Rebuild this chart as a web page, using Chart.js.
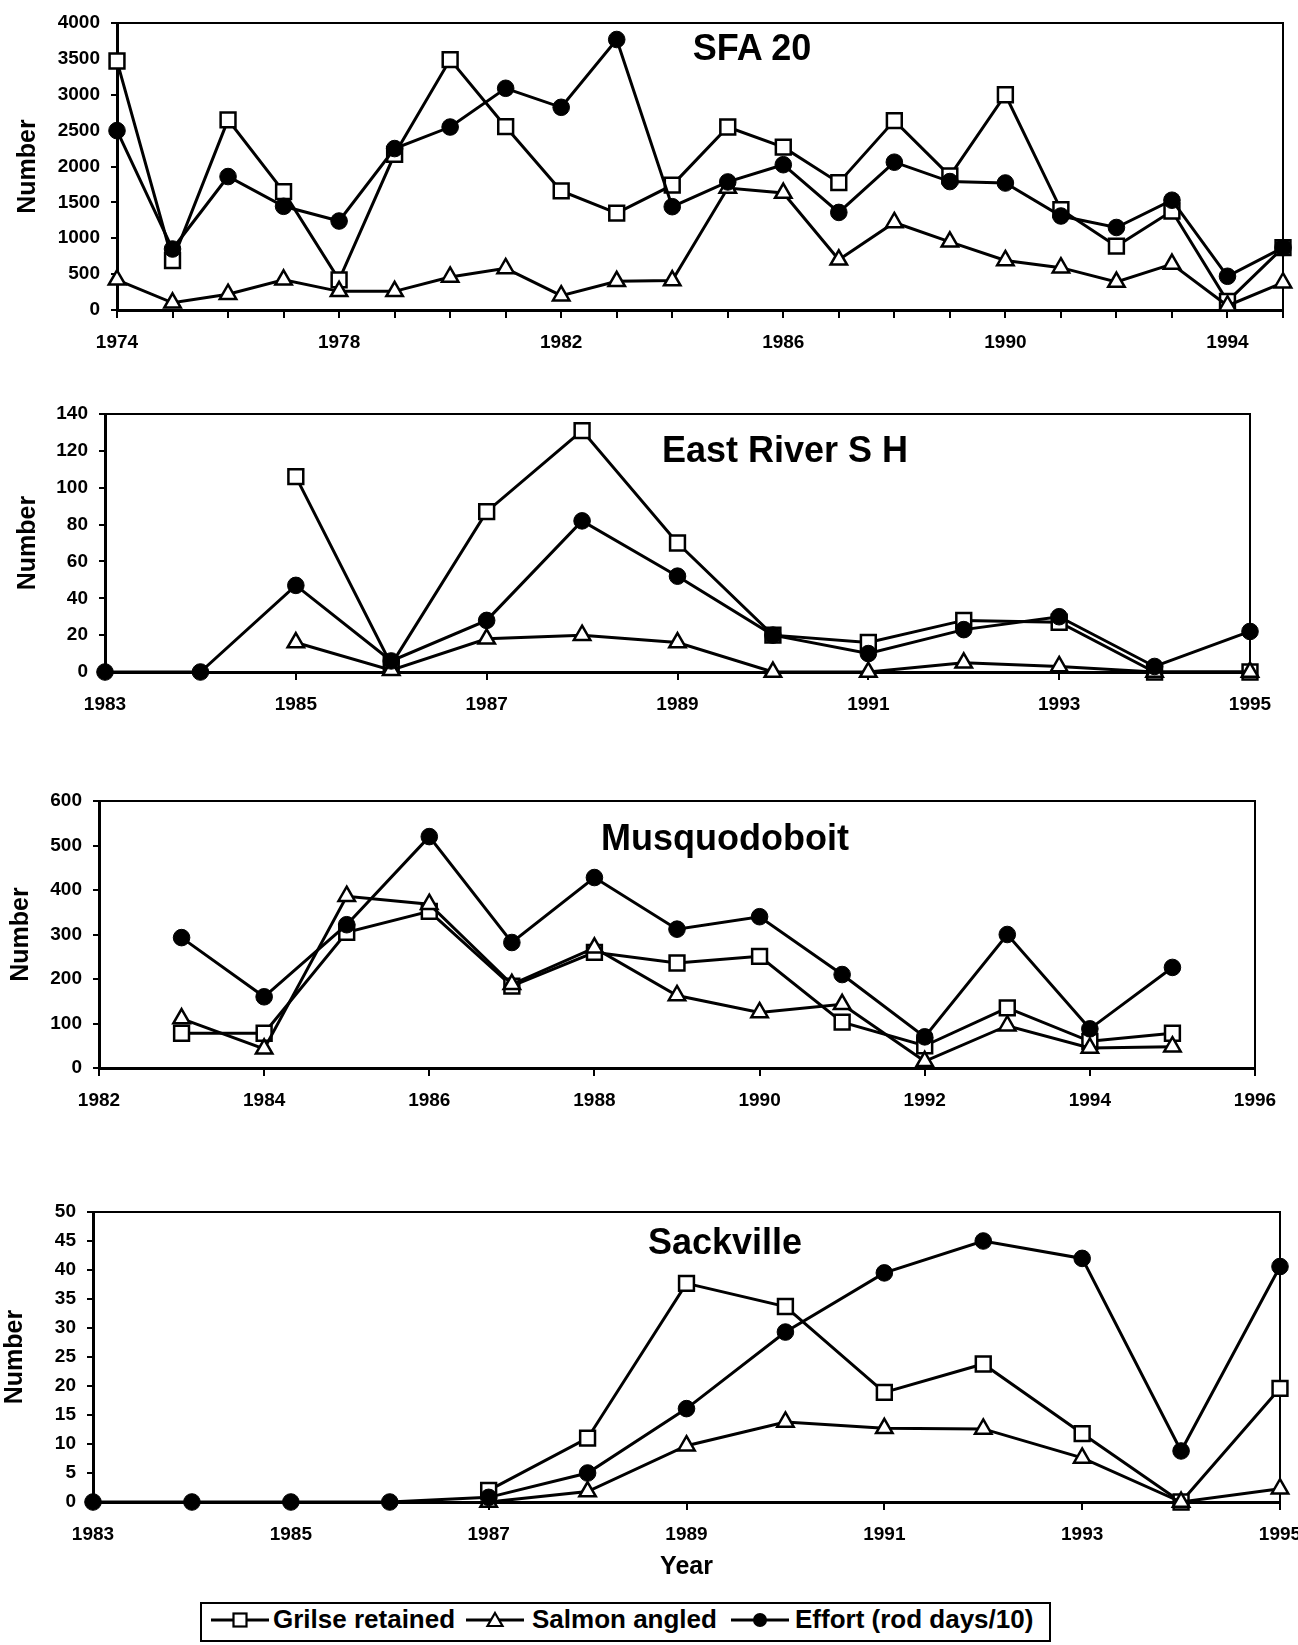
<!DOCTYPE html>
<html>
<head>
<meta charset="utf-8">
<title>Recreational salmon fishery: SFA 20 and rivers</title>
<script src="https://cdn.jsdelivr.net/npm/chart.js@4.4.1/dist/chart.umd.min.js"></script>
<style>
  html, body { margin: 0; padding: 0; background: #fff; }
  body {
    width: 1298px; height: 1645px; position: relative; overflow: hidden;
    font-family: "Liberation Sans", Arial, Helvetica, sans-serif; font-weight: bold; color: #000;
  }
  canvas.panel { position: absolute; left: 0; top: 0; }
  .ttl {
    position: absolute; font-size: 36px; line-height: 36px; white-space: nowrap;
    transform: translateX(-50%);
  }
  #legend {
    position: absolute; left: 200px; top: 1602px; width: 851px; height: 40px;
    box-sizing: border-box; border: 2px solid #000; background: #fff;
  }
  .lg-sym { position: absolute; }
  .lg-txt { position: absolute; font-size: 26px; line-height: 26px; white-space: nowrap; }
</style>
</head>
<body>
<canvas id="cSfa" class="panel" width="1298" height="1645"></canvas>
<canvas id="cEast" class="panel" width="1298" height="1645"></canvas>
<canvas id="cMusq" class="panel" width="1298" height="1645"></canvas>
<canvas id="cSack" class="panel" width="1298" height="1645"></canvas>

<div class="ttl" style="left:752px; top:30px;">SFA 20</div>
<div class="ttl" style="left:785px; top:432px;">East River S H</div>
<div class="ttl" style="left:725px; top:820px;">Musquodoboit</div>
<div class="ttl" style="left:725px; top:1224px;">Sackville</div>

<div id="legend"></div>

<script>
// ---- Series names ----
const seriesNames = ['Grilse retained', 'Salmon angled', 'Effort (rod days/10)'];

// ---- SFA 20 ----
const sfaYears  = [1974, 1975, 1976, 1977, 1978, 1979, 1980, 1981, 1982, 1983, 1984,
                   1985, 1986, 1987, 1988, 1989, 1990, 1991, 1992, 1993, 1994, 1995];
const sfaGrilse = [3470, 690, 2650, 1650, 420, 2170, 3490, 2555, 1660, 1350, 1740,
                   2550, 2270, 1775, 2640, 1870, 3000, 1400, 890, 1380, 120, 870];
const sfaSalmon = [420, 100, 220, 420, 260, 260, 460, 580, 200, 400, 410,
                   1700, 1630, 700, 1220, 950, 690, 590, 390, 640, 60, 380];
const sfaEffort = [2500, 850, 1860, 1445, 1240, 2250, 2550, 3090, 2825, 3770, 1440,
                   1785, 2025, 1360, 2060, 1790, 1770, 1310, 1150, 1530, 470, 870];

// ---- East River (Sheet Harbour) ----
const eastYears  = [1983, 1984, 1985, 1986, 1987, 1988, 1989, 1990, 1991, 1992, 1993, 1994, 1995];
const eastGrilse = [null, null, 106, 4, 87, 131, 70, 20, 16, 28, 27, 0, 0];
const eastSalmon = [null, null, 16, 1, 18, 20, 16, 0, 0, 5, 3, 0, 0];
const eastEffort = [0, 0, 47, 6, 28, 82, 52, 20, 10, 23, 30, 3, 22];

// ---- Musquodoboit ----
const musqYears  = [1983, 1984, 1985, 1986, 1987, 1988, 1989, 1990, 1991, 1992, 1993, 1994, 1995];
const musqGrilse = [78, 78, 305, 352, 184, 260, 236, 251, 103, 50, 135, 60, 78];
const musqSalmon = [111, 43, 386, 368, 188, 270, 163, 125, 143, 15, 95, 45, 48];
const musqEffort = [293, 160, 322, 520, 282, 428, 312, 340, 210, 70, 300, 88, 226];

// ---- Sackville ----
const sackYears  = [1983, 1984, 1985, 1986, 1987, 1988, 1989, 1990, 1991, 1992, 1993, 1994, 1995];
const sackGrilse = [null, null, null, null, 2, 11, 37.7, 33.7, 18.9, 23.8, 11.8, 0, 19.6];
const sackSalmon = [null, null, null, null, 0, 1.8, 9.7, 13.8, 12.7, 12.6, 7.6, 0, 2.3];
const sackEffort = [0, 0, 0, 0, 0.8, 5, 16.1, 29.3, 39.5, 45, 42, 8.8, 40.6];

// ---- Drawing ----
const FONT = '"Liberation Sans", Arial, Helvetica, sans-serif';
const PAGE_W = 1298, PAGE_H = 1645;

const seriesStyle = {
  grilse: { pointStyle: 'rect',     pointRadius: 10.5, pointBorderWidth: 2.5, pointBackgroundColor: '#fff' },
  salmon: { pointStyle: 'triangle', pointRadius: 9.5,  pointBorderWidth: 2.5, pointBackgroundColor: '#fff' },
  effort: { pointStyle: 'circle',   pointRadius: 8.3,  pointBorderWidth: 1,   pointBackgroundColor: '#000' }
};

function points(years, vals) {
  return years.map((x, i) => ({ x: x, y: vals[i] }));
}

function lineSet(label, years, vals, style) {
  return Object.assign({
    label: label,
    data: points(years, vals),
    borderColor: '#000',
    borderWidth: 3,
    pointBorderColor: '#000',
    pointHoverRadius: style.pointRadius,
    tension: 0,
    spanGaps: false,
    clip: false
  }, style);
}

// Thin frame around the plotting area (top and right edges of the box)
const framePlugin = {
  id: 'frame',
  beforeDatasetsDraw(chart) {
    const { ctx, chartArea: a } = chart;
    ctx.save();
    ctx.strokeStyle = '#000';
    ctx.lineWidth = 2;
    ctx.strokeRect(a.left, a.top, a.right - a.left, a.bottom - a.top);
    ctx.restore();
  }
};

// box: plot-area edges; titleX: centre of the rotated "Number" label
function makePanel(id, box, xCfg, yCfg, sets) {
  const yTitleSize = 25;
  const scaleLeft = box.titleX - yTitleSize / 2;
  const yW = box.left - scaleLeft;
  const xH = box.xH;
  const tickFont = { family: FONT, size: 19, weight: 'bold' };

  new Chart(document.getElementById(id), {
    type: 'line',
    data: { datasets: sets },
    plugins: [framePlugin],
    options: {
      responsive: false,
      devicePixelRatio: 1,
      animation: false,
      events: [],
      layout: {
        padding: {
          left: scaleLeft,
          right: PAGE_W - box.right,
          top: box.top,
          bottom: PAGE_H - box.bottom - xH
        }
      },
      plugins: { legend: { display: false }, tooltip: { enabled: false }, title: { display: false } },
      scales: {
        x: {
          type: 'linear',
          min: xCfg.min, max: xCfg.max,
          afterFit(s) { s.height = xH; s.paddingLeft = 0; s.paddingRight = 0; },
          ticks: {
            stepSize: xCfg.step, autoSkip: false, maxTicksLimit: 200,
            maxRotation: 0, minRotation: 0, padding: 13, color: '#000', font: tickFont,
            callback: xCfg.label
          },
          grid: { drawOnChartArea: false, drawTicks: true, tickLength: 8, color: '#000', lineWidth: 2 },
          border: { display: true, color: '#000', width: 3 },
          title: xCfg.title ? {
            display: true, text: xCfg.title, color: '#000', padding: 0,
            font: { family: FONT, size: 25, weight: 'bold', lineHeight: 1 }
          } : { display: false }
        },
        y: {
          type: 'linear',
          min: 0, max: yCfg.max,
          afterFit(s) { s.width = yW; s.paddingTop = 0; s.paddingBottom = 0; },
          ticks: {
            stepSize: yCfg.step, autoSkip: false, maxTicksLimit: 200,
            padding: 11, color: '#000', font: tickFont,
            callback: (v) => String(v)
          },
          grid: { drawOnChartArea: false, drawTicks: true, tickLength: 6, color: '#000', lineWidth: 2 },
          border: { display: true, color: '#000', width: 3 },
          title: {
            display: true, text: 'Number', color: '#000', padding: 0,
            font: { family: FONT, size: yTitleSize, weight: 'bold', lineHeight: 1 }
          }
        }
      }
    }
  });
}

function panelSets(years, grilse, salmon, effort) {
  // effort first so that it is painted on top, then salmon, then grilse
  return [
    lineSet(seriesNames[2], years, effort, seriesStyle.effort),
    lineSet(seriesNames[1], years, salmon, seriesStyle.salmon),
    lineSet(seriesNames[0], years, grilse, seriesStyle.grilse)
  ];
}

const plain = (v) => String(v);

makePanel('cSfa',
  { left: 117, right: 1283, top: 23, bottom: 310, titleX: 28, xH: 50 },
  { min: 1974, max: 1995, step: 1, label: (v) => ((v - 1974) % 4 === 0 ? String(v) : '') },
  { max: 4000, step: 500 },
  panelSets(sfaYears, sfaGrilse, sfaSalmon, sfaEffort));

makePanel('cEast',
  { left: 105, right: 1250, top: 414, bottom: 672, titleX: 28, xH: 50 },
  { min: 1983, max: 1995, step: 2, label: plain },
  { max: 140, step: 20 },
  panelSets(eastYears, eastGrilse, eastSalmon, eastEffort));

makePanel('cMusq',
  { left: 99, right: 1255, top: 801, bottom: 1068, titleX: 21, xH: 50 },
  { min: 1982, max: 1996, step: 2, label: plain },
  { max: 600, step: 100 },
  panelSets(musqYears, musqGrilse, musqSalmon, musqEffort));

makePanel('cSack',
  { left: 93, right: 1280, top: 1212, bottom: 1502, titleX: 15, xH: 78 },
  { min: 1983, max: 1995, step: 2, label: plain, title: 'Year' },
  { max: 50, step: 5 },
  panelSets(sackYears, sackGrilse, sackSalmon, sackEffort));

// ---- Shared legend ----
const legendItems = [
  { name: seriesNames[0], marker: 'rect',     symX: 9,   txtX: 71 },
  { name: seriesNames[1], marker: 'triangle', symX: 264, txtX: 330 },
  { name: seriesNames[2], marker: 'circle',   symX: 529, txtX: 593 }
];

function legendSymbol(marker) {
  const w = 58, h = 20, cx = w / 2, cy = h / 2;
  let m = '';
  if (marker === 'rect') {
    m = `<rect x="${cx - 6.5}" y="${cy - 6.5}" width="13" height="13" fill="#fff" stroke="#000" stroke-width="2.2"/>`;
  } else if (marker === 'triangle') {
    m = `<polygon points="${cx},${cy - 7} ${cx + 7.5},${cy + 6} ${cx - 7.5},${cy + 6}" fill="#fff" stroke="#000" stroke-width="2.2"/>`;
  } else {
    m = `<circle cx="${cx}" cy="${cy}" r="7" fill="#000"/>`;
  }
  return `<svg width="${w}" height="${h}" viewBox="0 0 ${w} ${h}">` +
         `<line x1="0" y1="${cy}" x2="${w}" y2="${cy}" stroke="#000" stroke-width="2.8"/>` + m + `</svg>`;
}

const legendEl = document.getElementById('legend');
legendItems.forEach((it) => {
  const sym = document.createElement('div');
  sym.className = 'lg-sym';
  sym.style.left = it.symX + 'px';
  sym.style.top = '6px';
  sym.innerHTML = legendSymbol(it.marker);
  legendEl.appendChild(sym);

  const txt = document.createElement('div');
  txt.className = 'lg-txt';
  txt.style.left = it.txtX + 'px';
  txt.style.top = '2px';
  txt.textContent = it.name;
  legendEl.appendChild(txt);
});
</script>
</body>
</html>
